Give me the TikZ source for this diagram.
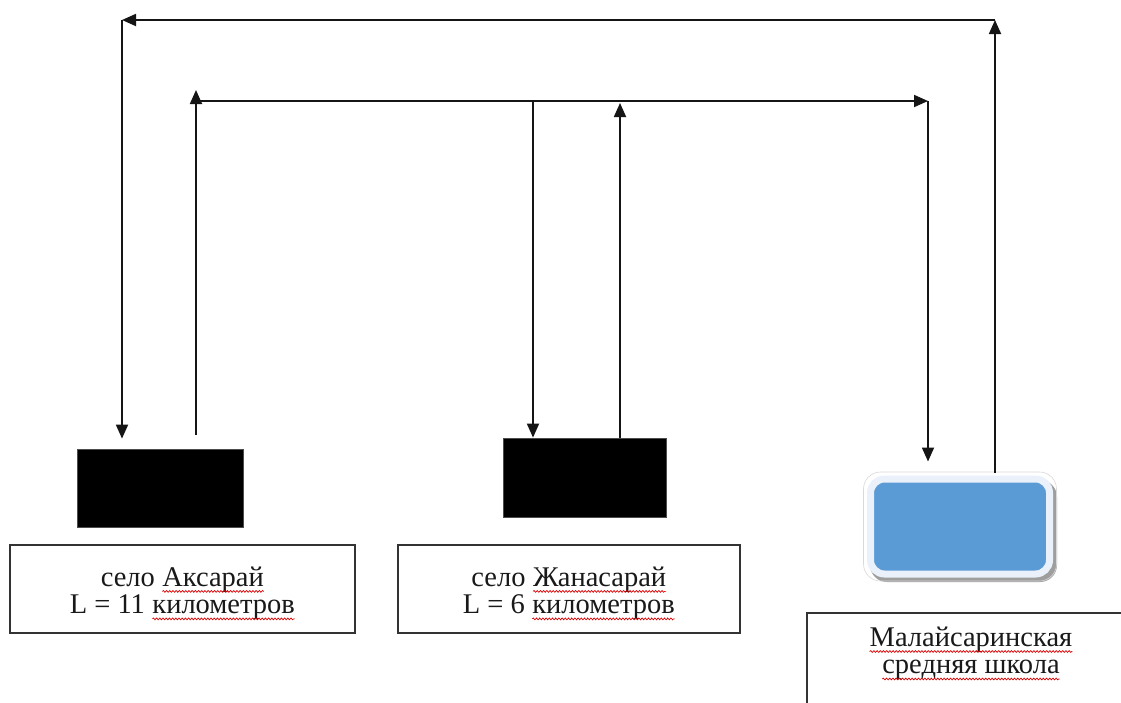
\documentclass[tikz,border=0pt]{standalone}
\usepackage{fontspec}
\setmainfont{Liberation Serif}
\usetikzlibrary{arrows.meta,decorations.pathmorphing}
\definecolor{blueshape}{HTML}{5B9BD5}
\definecolor{blueborder}{HTML}{EAF1FA}
\definecolor{lineclr}{HTML}{151515}
\newcommand\sq[1]{\tikz[baseline=(w.base)]{\node[draw=none,fill=none,inner sep=0pt,outer sep=0pt,minimum width=0pt,minimum height=0pt,anchor=base](w) at (0,0) {#1};\draw[draw=red!85!black,line width=0.7pt,decorate,decoration={snake,amplitude=0.9pt,segment length=3.2pt}]([yshift=-5pt]w.base west) -- ([yshift=-5pt]w.base east);}}
\begin{document}
\begin{tikzpicture}[x=1pt,y=-1pt,
  conn/.style={line width=1.8pt,draw=lineclr,-{Triangle[length=14pt,width=12pt]}},
  blackbox/.style={fill=black,draw=black!70,line width=0.8pt,inner sep=0pt},
  labelbox/.style={draw=black!80,line width=1.6pt,fill=white,inner sep=0pt},
  labeltext/.style={inner sep=0pt,text=black!90,font=\fontsize{28.5}{27.5}\selectfont},
  schoolshape/.style={fill=blueshape,draw=blueborder,line width=7pt,rounded corners=14pt,inner sep=0pt},
  shadowshape/.style={fill=black!38,rounded corners=17pt}]
\useasboundingbox (0,0) rectangle (1121,702);
\clip (0,0) rectangle (1121,702);
\fill[white] (0,0) rectangle (1121,702);

% places
\node[blackbox,minimum width=166pt,minimum height=78pt] (ak) at (160,488) {};
\node[blackbox,minimum width=163pt,minimum height=79pt] (jana) at (584.5,477.5) {};
\fill[shadowshape] (870,480) rectangle (1057,582);
\node[schoolshape,minimum width=179pt,minimum height=95pt] (school) at (960,526.5) {};
\draw[black!15,line width=0.6pt,rounded corners=17pt]
  ([xshift=-3.5pt,yshift=3.5pt]school.north west) rectangle ([xshift=3.5pt,yshift=-3.5pt]school.south east);

% label boxes
\node[labelbox,minimum width=345pt,minimum height=88pt] (akbox) at (182.5,589) {};
\node[labeltext] (aktext) at (182.5,594.5) {\begin{tabular}{@{}c@{}}село \sq{Аксарай}\\L = 11 \sq{километров}\end{tabular}};
\node[labelbox,minimum width=342pt,minimum height=88pt] (janabox) at (569,589) {};
\node[labeltext] (janatext) at (569,594.5) {\begin{tabular}{@{}c@{}}село \sq{Жанасарай}\\L = 6 \sq{километров}\end{tabular}};
\node[labelbox,minimum width=330pt,minimum height=100pt] (schoolbox) at (972,663) {};
\node[labeltext] (schooltext) at (971,654.6) {\begin{tabular}{@{}c@{}}\sq{Малайсаринская}\\\sq{средняя школа}\end{tabular}};

% corner points
\coordinate (tr) at (995,20);
\coordinate (tl) at (122,20);
\coordinate (ml) at (196,101);
\coordinate (mr) at (928,101);
\coordinate (jd) at (533,101);
\coordinate (ju) at (620,101);

% outer loop
\draw[conn] ([yshift=3pt]school.north -| tr) -- (tr);
\draw[conn] (tr) -- (tl);
\draw[conn] (tl) -- ([yshift=10pt]ak.north -| tl);
% inner loop
\draw[conn] ([yshift=14pt]ak.north -| ml) -- ([yshift=11pt]ml);
\draw[conn] (ml) -- (mr);
\draw[conn] (mr) -- ([yshift=14pt]school.north -| mr);
% Janasaray
\draw[conn] (jd) -- (jana.north -| jd);
\draw[conn] (jana.north -| ju) -- ([yshift=-2pt]ju);
\end{tikzpicture}
\end{document}
